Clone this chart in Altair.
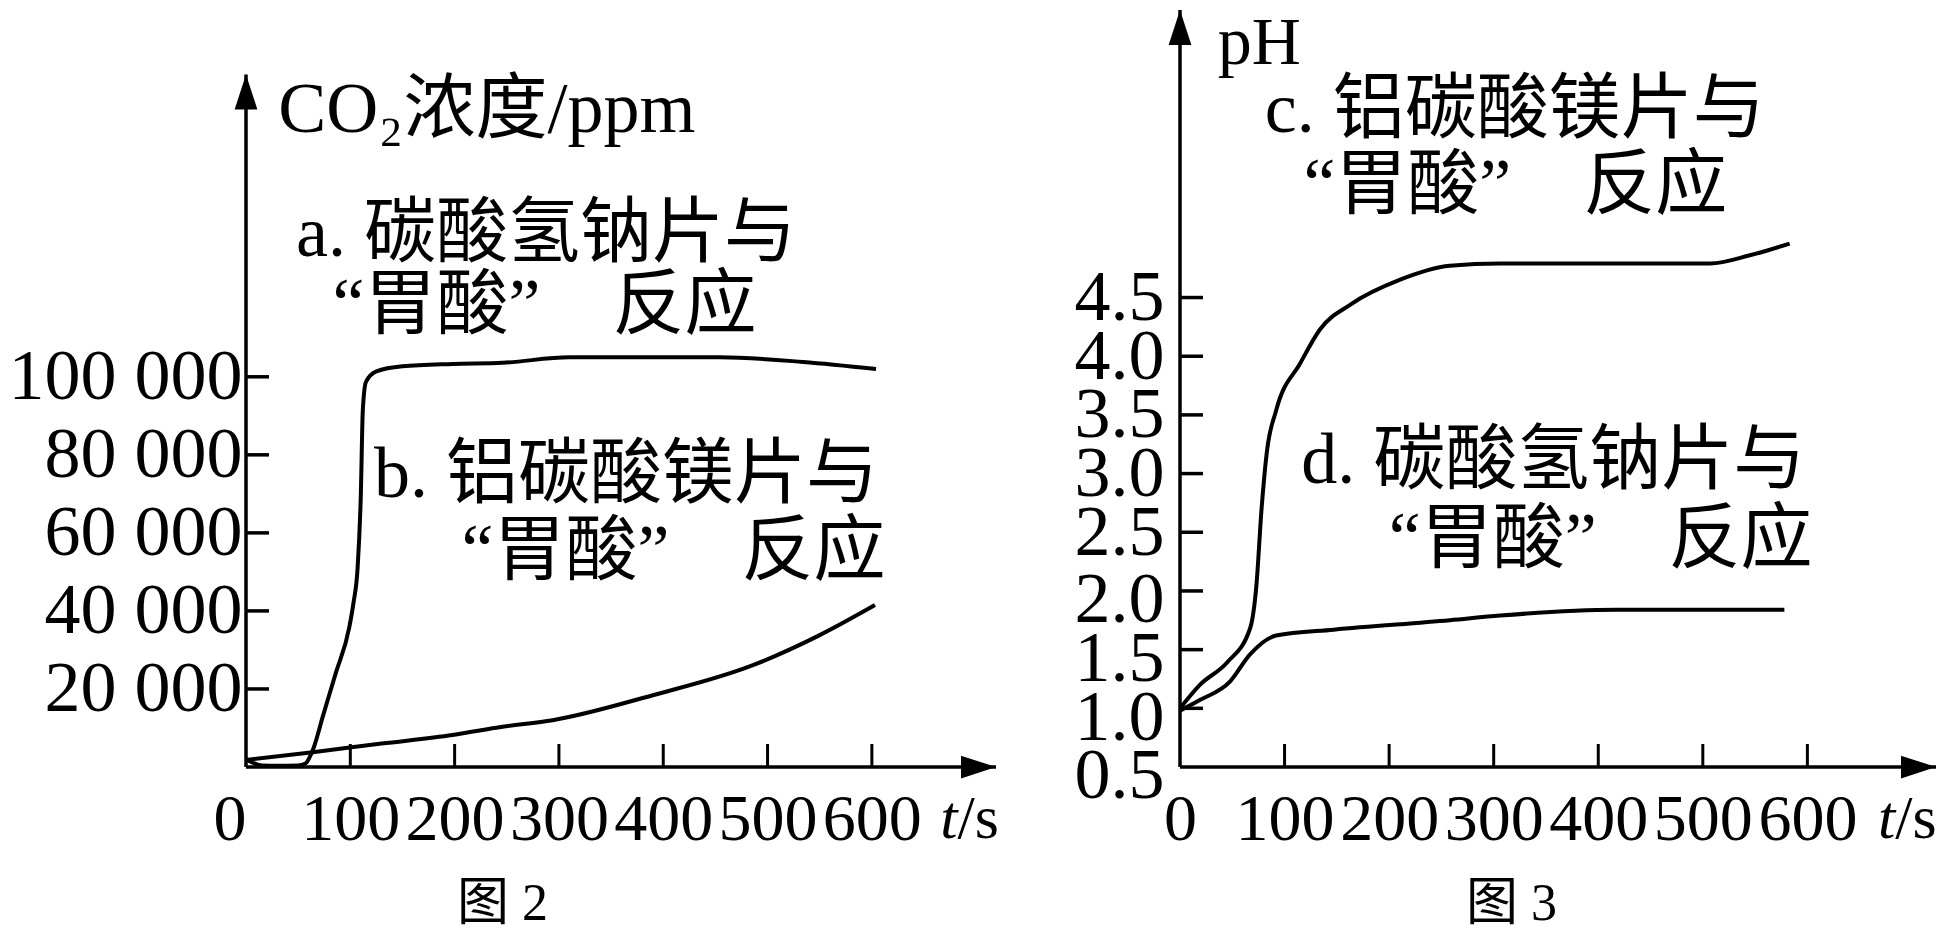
import altair as alt
import pandas as pd

SERIF = "Liberation Serif, Noto Sans CJK SC"

# ---------------- 图2 : CO2 concentration / ppm ----------------
t_a = [0, 15, 30, 50, 57, 64, 74, 86, 99, 103, 107, 110, 112, 115, 125, 150, 198, 246, 310, 454, 534, 604]
co2_a = [2000, 400, 300, 400, 900, 4300, 13300, 24000, 35800, 42000, 51000, 69000, 91500, 98700,
         101400, 102700, 103300, 103600, 105000, 105000, 103800, 102000]
t_b = [0, 64, 130, 198, 246, 294, 390, 486, 550, 603]
co2_b = [1800, 3800, 6000, 8200, 10300, 12000, 18400, 26100, 33800, 41500]

co2_ticks = [20000, 40000, 60000, 80000, 100000]
time_ticks = [100, 200, 300, 400, 500, 600]
time_labels = [0, 100, 200, 300, 400, 500, 600]

# ---------------- 图3 : pH ----------------
t_c = [0, 19, 45, 67, 73, 78, 83, 92, 115, 134, 163, 210, 258, 306, 449, 507, 545, 583]
ph_c = [1.0, 1.2, 1.39, 1.68, 2.04, 2.7, 3.18, 3.54, 3.94, 4.23, 4.44, 4.65, 4.77, 4.79, 4.79, 4.79, 4.86, 4.96]
t_d = [0, 19, 48, 67, 92, 147, 258, 306, 417, 578]
ph_d = [0.98, 1.07, 1.23, 1.46, 1.62, 1.67, 1.75, 1.79, 1.84, 1.84]

ph_ticks = [1.0, 1.5, 2.0, 2.5, 3.0, 3.5, 4.0, 4.5]
ph_labels = [0.5, 1.0, 1.5, 2.0, 2.5, 3.0, 3.5, 4.0, 4.5]

# axis extents (arrow tips) in data units
co2_x_max, co2_y_max, co2_y_arrow = 719, 194000, 177500
ph_x_max, ph_y_min, ph_y_max = 723, 0.5, 6.95

# annotation anchors in data units
notes_co2_left = pd.DataFrame({
    "x": [48, 83, 31],
    "y": [136600, 118100, 168500],
    "text": ["a. 碳酸氢钠片与", "“胃酸”　反应", "CO₂浓度/ppm"],
})
notes_co2_right = pd.DataFrame({
    "x": [606, 613],
    "y": [74800, 55100],
    "text": ["b. 铝碳酸镁片与", "“胃酸”　反应"],
})
notes_ph_left = pd.DataFrame({
    "x": [81, 118],
    "y": [6.10, 5.45],
    "text": ["c. 铝碳酸镁片与", "“胃酸”　反应"],
})
notes_ph_right = pd.DataFrame({
    "x": [598, 605],
    "y": [3.11, 2.43],
    "text": ["d. 碳酸氢钠片与", "“胃酸”　反应"],
})
ph_title = pd.DataFrame({"x": [36], "y": [ph_y_max], "text": ["pH"]})

W1, W2, H = 750, 756, 757
TICK = 23


def panel(curves, x_max, y_min, y_max, y_arrow, width, y_tick_vals, y_axis,
          zero_align, notes_l, notes_r, unit_pos, fig_x, fig_y, fig_text, top_text=None):
    xs = alt.Scale(domain=[0, x_max], nice=False, zero=False)
    ys = alt.Scale(domain=[y_min, y_max], nice=False, zero=False)
    x_axis = alt.Axis(
        values=time_labels, title="",
        labelAlign={"condition": {"test": "datum.value == 0", "value": zero_align}, "value": "center"},
        labelFont="Liberation Serif", labelFontSize=66, labelPadding=20, labelLimit=0,
        labelFlush=False, labelOverlap=False, labelColor="black")

    def X(field):
        return alt.X(field, type="quantitative", scale=xs, axis=x_axis)

    def Y(field):
        return alt.Y(field, type="quantitative", scale=ys, axis=y_axis)

    lines = alt.Chart(curves).mark_line(
        interpolate="monotone", color="black", strokeWidth=4
    ).encode(x=X("x"), y=Y("y"), detail="s:N")

    frame = pd.DataFrame({"x": [0, 0], "y": [y_min, y_min], "x2": [x_max, 0], "y2": [y_min, y_arrow]})
    axes = alt.Chart(frame).mark_rule(color="black", strokeWidth=3.5).encode(
        x=X("x"), y=Y("y"), x2="x2:Q", y2="y2:Q")

    up = alt.Chart(pd.DataFrame({"x": [0], "y": [y_arrow]})).mark_point(
        shape="M0,0L0.65,2L-0.65,2Z", filled=True, size=1225, color="black", opacity=1
    ).encode(x=X("x"), y=Y("y"))
    right = alt.Chart(pd.DataFrame({"x": [x_max], "y": [y_min]})).mark_point(
        shape="M0,0L-2,-0.65L-2,0.65Z", filled=True, size=1225, color="black", opacity=1
    ).encode(x=X("x"), y=Y("y"))

    yt = alt.Chart(pd.DataFrame({"y": y_tick_vals, "x": [0] * len(y_tick_vals)})).mark_rule(
        color="black", strokeWidth=3.5
    ).encode(y=Y("y"), x=X("x"), x2=alt.value(TICK))
    xt = alt.Chart(pd.DataFrame({"x": time_ticks, "y": [y_min] * len(time_ticks)})).mark_rule(
        color="black", strokeWidth=3
    ).encode(x=X("x"), y=Y("y"), y2=alt.value(H - TICK))

    def txt(df, align, size=72, baseline="middle", font=SERIF):
        return alt.Chart(df).mark_text(
            align=align, baseline=baseline, font=font, fontSize=size, color="black"
        ).encode(x=X("x"), y=Y("y"), text="text:N")

    unit_df = pd.DataFrame({"x": [unit_pos[0]], "y": [unit_pos[1]], "a": ["t"], "b": ["/s"]})
    t_it = alt.Chart(unit_df).mark_text(
        align="right", baseline="middle", font="Liberation Serif", fontSize=62,
        fontStyle="italic", color="black"
    ).encode(x=X("x"), y=Y("y"), text="a:N")
    t_s = alt.Chart(unit_df).mark_text(
        align="left", baseline="middle", font="Liberation Serif", fontSize=62, color="black"
    ).encode(x=X("x"), y=Y("y"), text="b:N")

    fig = txt(pd.DataFrame({"x": [fig_x], "y": [fig_y], "text": [fig_text]}), "center", 52)

    layers = [lines, axes, yt, xt, up, right,
              txt(notes_l, "left"), txt(notes_r, "right"), t_it, t_s, fig]
    if top_text is not None:
        layers.append(txt(top_text, "left", 68, "top", "Liberation Serif"))
    return alt.layer(*layers).properties(width=width, height=H)


co2_curves = pd.DataFrame({
    "x": t_a + t_b,
    "y": co2_a + co2_b,
    "s": ["a"] * len(t_a) + ["b"] * len(t_b),
})
ph_curves = pd.DataFrame({
    "x": t_c + t_d,
    "y": ph_c + ph_d,
    "s": ["c"] * len(t_c) + ["d"] * len(t_d),
})

co2_y_axis = alt.Axis(
    values=co2_ticks, title="", labelExpr="replace(format(datum.value, ','), ',', ' ')",
    labelFont="Liberation Serif", labelFontSize=72, labelPadding=4, labelLimit=0,
    labelOverlap=False, labelFlush=False, labelColor="black")

# the pH labels sit a little further apart than their ticks: pad with empty lines
ph_y_axis = alt.Axis(
    values=ph_labels, title="",
    labelExpr="split(slice('||||', 0, max(0, round(5 - 2*datum.value))) + format(datum.value, '.1f')"
              " + slice('||||', 0, max(0, round(2*datum.value - 5))), '|')",
    labelLineHeight=8.8,
    labelFont="Liberation Serif", labelFontSize=72, labelPadding=16, labelLimit=0,
    labelOverlap=False, labelFlush=False, labelColor="black")

left = panel(co2_curves, co2_x_max, 0, co2_y_max, co2_y_arrow, W1, co2_ticks, co2_y_axis,
             "right", notes_co2_left, notes_co2_right, (682, -13300), 246, -35000, "图 2")

right = panel(ph_curves, ph_x_max, ph_y_min, ph_y_max, ph_y_max, W2, ph_ticks, ph_y_axis,
              "center", notes_ph_left, notes_ph_right, (684, 0.057), 317, -0.67, "图 3",
              top_text=ph_title)

chart = alt.hconcat(left, right, spacing=184, bounds="flush").properties(
    padding=0
).configure_view(strokeWidth=0).configure_axis(grid=False, domain=False, ticks=False)

chart.save("out.html", embed_options={"renderer": "svg", "actions": False})
